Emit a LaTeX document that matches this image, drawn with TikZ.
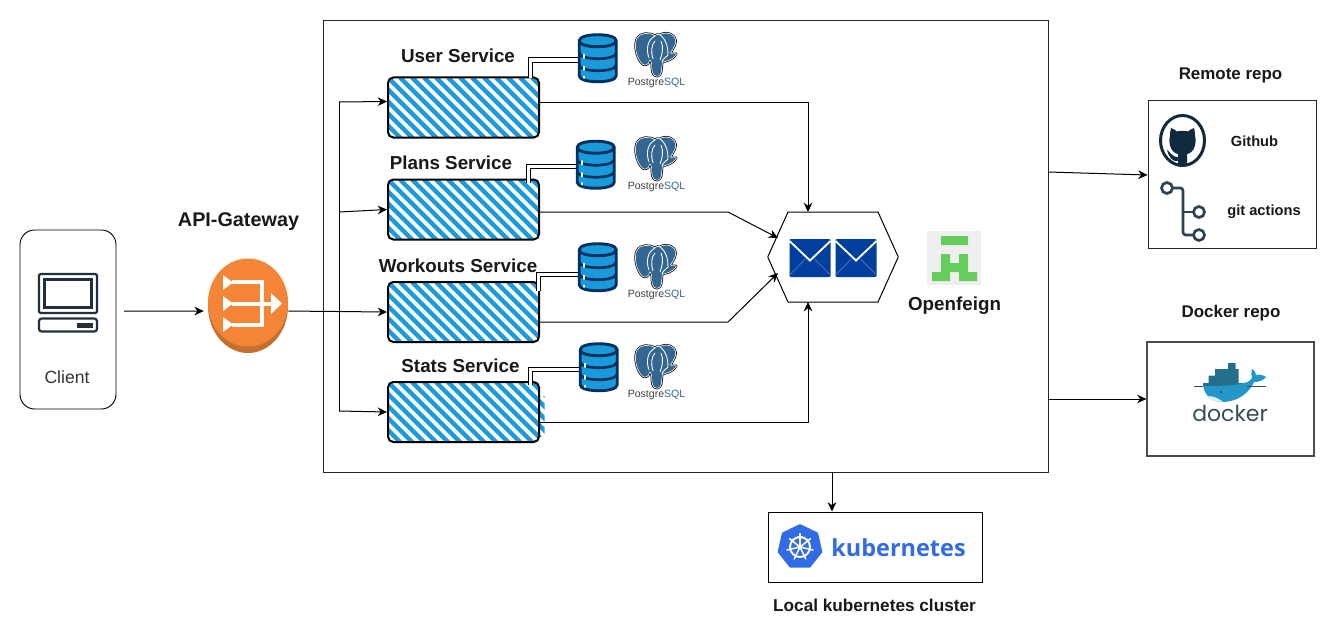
\documentclass[tikz,border=0pt]{standalone}
\usepackage{fontspec}
\setmainfont{Liberation Sans}
\newfontfamily\dockerfont{Poppins}
\newfontfamily\kubefont{Open Sans}
\usetikzlibrary{arrows.meta,shapes.geometric,calc}
\definecolor{hatchblue}{HTML}{1B9BDC}
\definecolor{dbblue}{HTML}{1A9ADB}
\definecolor{dbdark}{HTML}{00315F}
\definecolor{pgblue}{HTML}{336791}
\definecolor{gworange}{HTML}{F58536}
\definecolor{gwdark}{HTML}{C4702F}
\definecolor{icondark}{HTML}{232F3E}
\definecolor{envblue}{HTML}{003F9E}
\definecolor{envline}{HTML}{4470B4}
\definecolor{feigngreen}{HTML}{66CC5B}
\definecolor{feignbg}{HTML}{EFEFEF}
\definecolor{ghdark}{HTML}{0F2A3D}
\definecolor{gitdark}{HTML}{2C4357}
\definecolor{dockblue}{HTML}{2496C8}
\definecolor{dockdark}{HTML}{24708C}
\definecolor{docktext}{HTML}{394D54}
\definecolor{kubeblue}{HTML}{326CE5}
\tikzset{
  conn/.style={draw=black,line width=.75pt,-{Stealth[length=7pt,width=6.5pt]}},
  plainconn/.style={draw=black,line width=.75pt},
  dbconn/.style={draw=black,line width=.8pt,double=white,double distance=2.8pt},
  outerbox/.style={draw=black!85,line width=.7pt,fill=white,rectangle},
  titletext/.style={font=\bfseries\fontsize{14.1}{16}\selectfont,inner sep=0pt,text=black!90},
  smalltitle/.style={font=\bfseries\fontsize{12.7}{15}\selectfont,inner sep=0pt,text=black!90},
  tinytitle/.style={font=\bfseries\fontsize{11}{13}\selectfont,inner sep=0pt,text=black!90},
  hatchstripe/.style={draw=hatchblue,line width=3.3pt},
  servicebox/.style={rectangle,rounded corners=4pt,draw=black,line width=1.5pt,minimum width=151*.75pt,minimum height=60*.75pt,inner sep=0pt,
    path picture={\foreach \i in {-6,...,14}{\draw[hatchstripe] ([xshift=\i*9pt]path picture bounding box.north west) -- ++(52.5pt,-52.5pt);}}},
  iconslot/.style={rectangle,inner sep=0pt,draw=none},
  dbicon/.pic={
    \path[fill=dbblue,draw=dbdark,line width=2.2pt,line join=round] (1.5,7) -- (1.5,42) .. controls (1.5,50) and (38.5,50) .. (38.5,42) -- (38.5,7) .. controls (38.5,-1) and (1.5,-1) .. (1.5,7) -- cycle;
    \draw[dbdark,line width=2.2pt] (1.5,7) .. controls (1.5,15) and (38.5,15) .. (38.5,7);
    \draw[dbdark,line width=2pt] (1.5,19) .. controls (1.5,27) and (38.5,27) .. (38.5,19);
    \draw[dbdark,line width=2pt] (1.5,31) .. controls (1.5,39) and (38.5,39) .. (38.5,31);
    \draw[white,line width=1.8pt,line cap=round] (6.5,21) -- (6.5,24) (6.5,33) -- (6.5,36) (6.5,43) -- (6.5,44);
  },
  pgicon/.pic={
    \def\pgpath{(20,3) .. controls (15,0) and (6,-1) .. (2,6) .. controls (-1,13) and (2,24) .. (6,29) .. controls (8,32) and (11,33) .. (13,30) -- (15,26) .. controls (16,28) and (17,29) .. (17,31) .. controls (17,36) and (17,43) .. (22,43) .. controls (27,43) and (26,36) .. (27,29) .. controls (30,28) and (38,27) .. (41,21) .. controls (38,22) and (36,21) .. (35,20) .. controls (38,15) and (43,9) .. (39,4) .. controls (35,-1) and (28,0) .. (25,2) .. controls (23,1.5) and (21,2) .. (20,3) -- cycle}
    \draw[black,line width=2.2pt,line join=round] \pgpath;
    \draw[white,line width=1.1pt,line join=round] \pgpath;
    \fill[pgblue] \pgpath;
    \draw[white,line width=.65pt] (20,3) .. controls (12,7) and (11,17) .. (14,25);
    \draw[white,line width=.65pt] (25,2) .. controls (32,7) and (33,15) .. (33,22) .. controls (31,25) and (28,25) .. (27,29);
    \draw[white,line width=.65pt] (20,8) .. controls (16,12) and (16,20) .. (18,26);
    \draw[white,line width=.65pt] (26,8) .. controls (29,14) and (27,22) .. (25,27);
    \node[inner sep=0pt,font=\fontsize{7.9}{9}\selectfont] (label) at (21.5,50) {\textcolor{black!75}{Postgre}\textcolor{pgblue}{SQL}};
  },
  envicon/.pic={
    \fill[envblue,rounded corners=.8pt] (0,0) rectangle (41,38);
    \draw[envline,line width=.6pt] (0,36) -- (16,20) (41,36) -- (25,20);
    \draw[white,line width=1.4pt] (0,2) -- (20.5,21.5) -- (41,2);
  }
}
\begin{document}
\begin{tikzpicture}[x=.75pt,y=-.75pt]
\useasboundingbox[fill=white] (0,0) rectangle (1337,642);

% main container
\node[outerbox,minimum width=725*.75pt,minimum height=452*.75pt,inner sep=0pt] (main) at (685.5,246) {};

% client
\node[rectangle,rounded corners=11pt,draw=black,line width=.7pt,minimum width=96*.75pt,minimum height=179*.75pt,inner sep=0pt] (client) at (68,319.5) {};
\draw[icondark,line width=1.6pt,rounded corners=1pt] (39,274) rectangle (97,313);
\draw[icondark,line width=1.6pt] (44.5,279.5) rectangle (91.5,307.5);
\draw[icondark,line width=1.6pt,rounded corners=2pt] (39,318.5) rectangle (97,331.5);
\fill[icondark] (77,323) rectangle (93,327.5);
\node[inner sep=0pt,font=\fontsize{13.2}{16}\selectfont,text=black!80] (clienttext) at (67,377) {Client};

% gateway
\node[titletext,font=\bfseries\fontsize{14.85}{17}\selectfont] (gwtext) at (238.5,222) {API-Gateway};
\fill[gwdark] (248,306) ellipse [x radius=40,y radius=47];
\node[ellipse,fill=gworange,minimum width=80*.75pt,minimum height=88*.75pt,inner sep=0pt] (gw) at (248,302.5) {};
\draw[white,line width=3pt] (232,281.5) -- (261.5,281.5) -- (261.5,325) -- (232,325) (232,303.5) -- (272,303.5);
\fill[white] (223,275) -- (233,282.5) -- (223,290) -- cycle (223,296) -- (233,303.5) -- (223,311) -- cycle (223,317) -- (233,324.5) -- (223,332) -- cycle (271,293) -- (282,303.5) -- (271,314) -- cycle;

% hatch overflow on the stats box
\begin{scope}
\clip (538,396) rectangle (544.5,436);
\foreach \i in {-8,...,14}{\draw[hatchstripe] (388+\i*12,382) -- ++(70,70);}
\end{scope}

% services
\node[servicebox] (user) at (463.5,107.5) {};
\node[servicebox] (plans) at (463.5,209.5) {};
\node[servicebox] (work) at (463.5,312) {};
\node[servicebox] (stats) at (463.5,412) {};
\node[titletext] (usertext) at (458,56) {User Service};
\node[titletext] (planstext) at (451,163) {Plans Service};
\node[titletext] (worktext) at (458,266) {Workouts Service};
\node[titletext] (statstext) at (460.5,366) {Stats Service};

% databases
\node[iconslot,minimum width=40*.75pt,minimum height=49*.75pt] (db1) at (598,58.5) {};
\node[iconslot,minimum width=40*.75pt,minimum height=49*.75pt] (db2) at (596,165) {};
\node[iconslot,minimum width=40*.75pt,minimum height=49*.75pt] (db3) at (598,267.5) {};
\node[iconslot,minimum width=40*.75pt,minimum height=49*.75pt] (db4) at (599,367.5) {};
\coordinate (dc1) at (530.5,60);
\coordinate (dc2) at (528.5,166.5);
\coordinate (dc3) at (538.5,274.5);
\coordinate (dc4) at (530.5,369.5);
\coordinate (dd1) at (530.5,78);
\coordinate (dd2) at (528.5,183);
\coordinate (dd3) at (538.5,291);
\coordinate (dd4) at (530.5,385);
\draw[dbconn] (dd1) -- (dc1) -- (dc1-|db1.west);
\draw[dbconn] (dd2) -- (dc2) -- (dc2-|db2.west);
\draw[dbconn] (dd3) -- (dc3) -- (dc3-|db3.west);
\draw[dbconn] (dd4) -- (dc4) -- (dc4-|db4.west);
\pic at (db1.north west) {dbicon};
\pic at (db2.north west) {dbicon};
\pic at (db3.north west) {dbicon};
\pic at (db4.north west) {dbicon};
\pic (pg1) at (635,33) {pgicon};
\pic (pg2) at (635,137) {pgicon};
\pic (pg3) at (635,245) {pgicon};
\pic (pg4) at (635,345) {pgicon};

% hexagon with envelopes
\node[iconslot,minimum width=130*.75pt,minimum height=90*.75pt] (hex) at (833,257) {};
\draw[black,line width=.75pt,line join=round] (hex.west) -- (788,212) -- (878,212) -- (hex.east) -- (878,302) -- (788,302) -- cycle;
\pic at (789.5,239) {envicon};
\pic at (835.5,239) {envicon};

% openfeign
\node[iconslot,fill=feignbg,minimum width=54*.75pt,minimum height=54*.75pt] (feign) at (954,258) {};
\fill[feigngreen] (941,236) rectangle (968,245) (941,254) rectangle (950,281) (932,272) rectangle (950,281) (950,263) rectangle (959,272) (959,254) rectangle (968,281) (959,272) rectangle (977,281);
\node[titletext] (feigntext) at (954.5,306) {Openfeign};

% internal connectors
\coordinate (clientout) at (124,311);
\draw[conn] (clientout) -- ([shift={(-3pt,-6.4pt)}]gw.west);
\coordinate (bustop) at (339,102);
\coordinate (busplans) at (339,212);
\coordinate (busstats) at (339,411);
\draw[conn] ([yshift=-6.4pt]gw.east) -- (work.west);
\draw[plainconn] (bustop) -- (busstats);
\draw[conn] (bustop) -- ([yshift=4.5pt]user.west);
\draw[conn] (busplans) -- (plans.west);
\draw[conn] (busstats) -- (stats.west);
\coordinate (hn) at (808,212);
\coordinate (hs) at (808,302);
\coordinate (hnw) at (778,238);
\coordinate (hsw) at (778,273);
\draw[conn] ([yshift=4pt]user.east) -| (hn);
\draw[conn] ([yshift=-1.9pt]plans.east) -- (728,212) -- (hnw);
\draw[conn] ([yshift=-7.5pt]work.east) -- (728,322) -- (hsw);
\draw[conn] ([yshift=-7.5pt]stats.east) -| (hs);

% remote repo
\node[smalltitle] (remotetext) at (1230.5,75) {Remote repo};
\node[outerbox,minimum width=168*.75pt,minimum height=148*.75pt,inner sep=0pt] (remote) at (1232,174) {};
\fill[ghdark,even odd rule] (1182.5,140.5) ellipse [x radius=23.5,y radius=26.5] (1182.5,140.5) ellipse [x radius=20.5,y radius=23.5];
\fill[ghdark] (1171,128) .. controls (1174,129) and (1176,130.5) .. (1177,131.5) .. controls (1180,130.5) and (1185,130.5) .. (1188,131.5) .. controls (1189,130.5) and (1191,129) .. (1194,128) .. controls (1195,131) and (1195,134) .. (1195,136) .. controls (1197,143) and (1194,153) .. (1187,154) -- (1187,166) -- (1178,166) -- (1178,161) .. controls (1173,162) and (1169,158) .. (1167,150) .. controls (1170,151) and (1171,157) .. (1178,157) -- (1178,154) .. controls (1171,153) and (1168,143) .. (1170,136) .. controls (1170,134) and (1170,131) .. (1171,128) -- cycle;
\node[tinytitle] (ghtext) at (1254.5,141) {Github};
\draw[gitdark,line width=2pt,line join=round,rounded corners=2pt] (1172.5,188) -- (1183,188) -- (1183,235) -- (1193,235);
\draw[gitdark,line width=2pt] (1183,212) -- (1193,212);
\draw[gitdark,line width=2pt,fill=white] (1167,188) circle (5.5) (1199,212) circle (5.5) (1199,235) circle (5.5);
\node[tinytitle] (gatext) at (1264,212) {git actions};
\coordinate (mainr1) at (1048,172);
\draw[conn] (mainr1) -- ([yshift=-.75pt]remote.west);

% docker repo
\node[smalltitle] (dockertitle) at (1231,313) {Docker repo};
\node[outerbox,draw=black!70,line width=.9pt,minimum width=167*.75pt,minimum height=114*.75pt,inner sep=0pt] (dockerbox) at (1230.5,399) {};
\fill[dockdark] (1208.5,375.5) rectangle (1238.5,383) (1215,369) rectangle (1238.5,376) (1228,363) rectangle (1235.5,370);
\fill[dockblue] (1203,383) -- (1243,383) .. controls (1247,383) and (1250,381) .. (1252,378) .. controls (1251,375) and (1251,372) .. (1252,369) .. controls (1255,371) and (1256,373) .. (1256,375) .. controls (1259,374) and (1263,375) .. (1266,377) .. controls (1263,381) and (1258,382) .. (1254,382) .. controls (1249,393) and (1238,402) .. (1222,402) .. controls (1210,402) and (1203,393) .. (1203,383) -- cycle;
\fill[dockdark] (1203,383) -- (1243,383) .. controls (1235,386) and (1212,386) .. (1203.5,386) -- cycle;
\fill[white!85!dockblue] (1208,396) .. controls (1213,396) and (1218,398) .. (1223,402) .. controls (1216,402) and (1211,400) .. (1208,396) -- cycle;
\fill[docktext] (1221,392) circle (1.2);
\draw[docktext,line width=.4pt] (1194,386) -- (1203,386) (1247,386) -- (1266,386);
\node[inner sep=0pt,font=\dockerfont\fontsize{16.5}{18}\selectfont,text=docktext] (dockerword) at (1230,413) {docker};
\draw[conn] (main.east|-dockerbox.west) -- (dockerbox.west);

% kubernetes
\node[rectangle,draw=black,line width=.75pt,minimum width=214*.75pt,minimum height=70*.75pt,inner sep=0pt] (kube) at (875,547) {};
\node[regular polygon,regular polygon sides=7,fill=kubeblue,draw=kubeblue,line width=2pt,line join=round,minimum size=43*.75pt,inner sep=0pt] (kubehept) at (800,547) {};
\draw[white,line width=1.5pt] (kubehept.center) circle (10);
\fill[white] (kubehept.center) circle (2.6);
\foreach \a in {90,141.4,192.9,244.3,295.7,347.1,398.6}{\draw[white,line width=1.1pt,line cap=round] (kubehept.center) -- ++(\a:10pt);}
\node[inner sep=0pt,font=\kubefont\bfseries\fontsize{17.6}{20}\selectfont,text=kubeblue] (kubeword) at (898.5,548) {kubernetes};
\node[smalltitle,font=\bfseries\fontsize{12.9}{15}\selectfont] (kubetext) at (874.5,605) {Local kubernetes cluster};
\coordinate (mainb) at (832,472);
\draw[conn] (mainb) -- (mainb|-kube.north);
\end{tikzpicture}
\end{document}
